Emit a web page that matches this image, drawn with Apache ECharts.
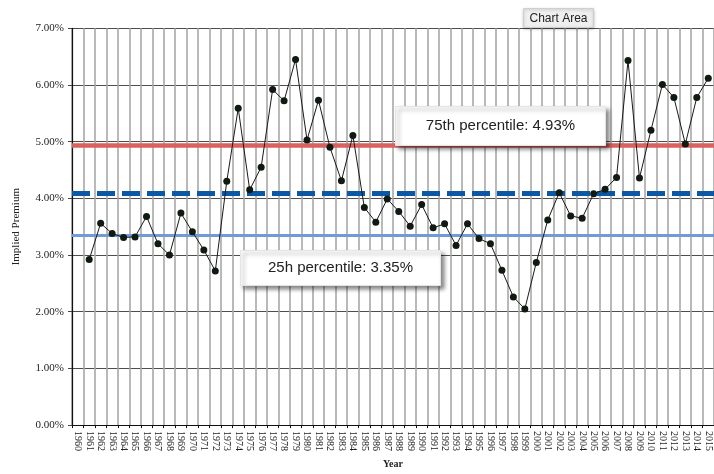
<!DOCTYPE html>
<html>
<head>
<meta charset="utf-8">
<script src="https://cdn.jsdelivr.net/npm/echarts@6/dist/echarts.min.js"></script>
<style>
  html, body { margin: 0; padding: 0; background: #fff; }
  #chart { width: 714px; height: 474px; }
</style>
</head>
<body>
<div id="chart"></div>
<script>
// Year categories along the x axis
const years = [
  '1960','1961','1962','1963','1964','1965','1966','1967','1968','1969',
  '1970','1971','1972','1973','1974','1975','1976','1977','1978','1979',
  '1980','1981','1982','1983','1984','1985','1986','1987','1988','1989',
  '1990','1991','1992','1993','1994','1995','1996','1997','1998','1999',
  '2000','2001','2002','2003','2004','2005','2006','2007','2008','2009',
  '2010','2011','2012','2013','2014','2015'
];

// Implied equity risk premium, in percent (no value for 1960)
const premium = [
  null, 2.92, 3.56, 3.38, 3.31, 3.32, 3.68, 3.20, 3.00, 3.74,
  3.41, 3.09, 2.72, 4.30, 5.59, 4.15, 4.55, 5.92, 5.72, 6.45,
  5.03, 5.73, 4.90, 4.31, 5.11, 3.84, 3.58, 3.99, 3.77, 3.51,
  3.89, 3.48, 3.55, 3.17, 3.55, 3.29, 3.20, 2.73, 2.26, 2.05,
  2.87, 3.62, 4.10, 3.69, 3.65, 4.08, 4.16, 4.37, 6.43, 4.36,
  5.20, 6.01, 5.78, 4.96, 5.78, 6.12
];

// Reference levels
const pct75 = 4.93;
const midLevel = 4.09;
const pct25 = 3.35;

// Y axis ticks (percent)
const yMin = 0, yMax = 7, yStep = 1;

const serif = '"Liberation Serif", "Times New Roman", serif';
const sans = '"Liberation Sans", Arial, Helvetica, sans-serif';

const chart = echarts.init(document.getElementById('chart'), null, { renderer: 'canvas' });

// White callout box with a drop shadow and centred caption
function noteBox(x, y, w, h, text) {
  return {
    type: 'group',
    left: x, top: y,
    z: 100,
    children: [
      {
        type: 'rect',
        z: 100,
        shape: { x: 0, y: 0, width: w, height: h },
        style: {
          fill: '#ffffff',
          stroke: '#e4e4e4',
          lineWidth: 1,
          shadowBlur: 4,
          shadowOffsetX: 3,
          shadowOffsetY: 3,
          shadowColor: 'rgba(0,0,0,0.45)'
        }
      },
      {
        type: 'text',
        z: 101,
        x: w / 2, y: h / 2,
        style: {
          text: text,
          fill: '#222',
          font: '15px ' + sans,
          align: 'center',
          verticalAlign: 'middle'
        }
      }
    ]
  };
}

chart.setOption({
  backgroundColor: '#ffffff',
  animation: false,
  grid: { left: 72, top: 28.3, bottom: 37.7, right: -6, containLabel: false },
  xAxis: {
    type: 'category',
    data: years,
    boundaryGap: true,
    name: 'Year',
    nameLocation: 'middle',
    nameGap: 32,
    nameTextStyle: { fontFamily: serif, fontSize: 10, fontWeight: 'bold', color: '#222' },
    axisLine: { lineStyle: { color: '#111', width: 1 } },
    axisTick: { show: true, inside: false, length: 3, lineStyle: { color: '#111' }, interval: 0 },
    axisLabel: {
      interval: 0, rotate: -90, margin: 6,
      fontFamily: serif, fontSize: 10, color: '#222'
    },
    splitLine: { show: true, interval: 0, lineStyle: { color: '#a8a8a8', width: 1.6 } }
  },
  yAxis: {
    type: 'value',
    min: yMin, max: yMax, interval: yStep,
    name: 'Implied Premium',
    nameLocation: 'middle',
    nameGap: 50,
    nameTextStyle: { fontFamily: serif, fontSize: 11, color: '#222' },
    axisLine: { show: true, lineStyle: { color: '#111', width: 1.2 } },
    axisTick: { show: true, length: 4, lineStyle: { color: '#444' } },
    axisLabel: {
      margin: 8,
      fontFamily: serif, fontSize: 11, color: '#222',
      formatter: v => v.toFixed(2) + '%'
    },
    splitLine: { show: true, lineStyle: { color: '#4d4d4d', width: 1 } }
  },
  series: [
    {
      type: 'line',
      data: premium,
      connectNulls: false,
      symbol: 'circle',
      symbolSize: 7,
      lineStyle: { color: '#1a1a1a', width: 1 },
      itemStyle: { color: '#111a11' },
      z: 5,
      markLine: {
        silent: true,
        symbol: ['none', 'none'],
        label: { show: false },
        animation: false,
        data: [
          { yAxis: pct75, lineStyle: { color: '#d9625f', width: 4.5, type: 'solid' } },
          { yAxis: midLevel, lineStyle: { color: '#0b58a5', width: 5, type: [18, 7] } },
          { yAxis: pct25, lineStyle: { color: '#6f9bd8', width: 3, type: 'solid' } }
        ]
      }
    }
  ],
  graphic: [
    noteBox(395, 106, 210, 39, '75th percentile: ' + pct75.toFixed(2) + '%'),
    noteBox(240, 250, 200, 35, '25h percentile: ' + pct25.toFixed(2) + '%'),
    {
      type: 'group',
      left: 523, top: 8,
      z: 110,
      children: [
        {
          type: 'rect',
          z: 110,
          shape: { x: 0, y: 0, width: 70, height: 19 },
          style: {
            fill: '#efefef', stroke: '#cfcfcf', lineWidth: 1,
            shadowBlur: 3, shadowOffsetY: 1, shadowColor: 'rgba(0,0,0,0.25)'
          }
        },
        {
          type: 'text',
          z: 111,
          x: 35, y: 10,
          style: {
            text: 'Chart Area', fill: '#222',
            font: '12px ' + sans, align: 'center', verticalAlign: 'middle'
          }
        }
      ]
    }
  ]
});
</script>
</body>
</html>
